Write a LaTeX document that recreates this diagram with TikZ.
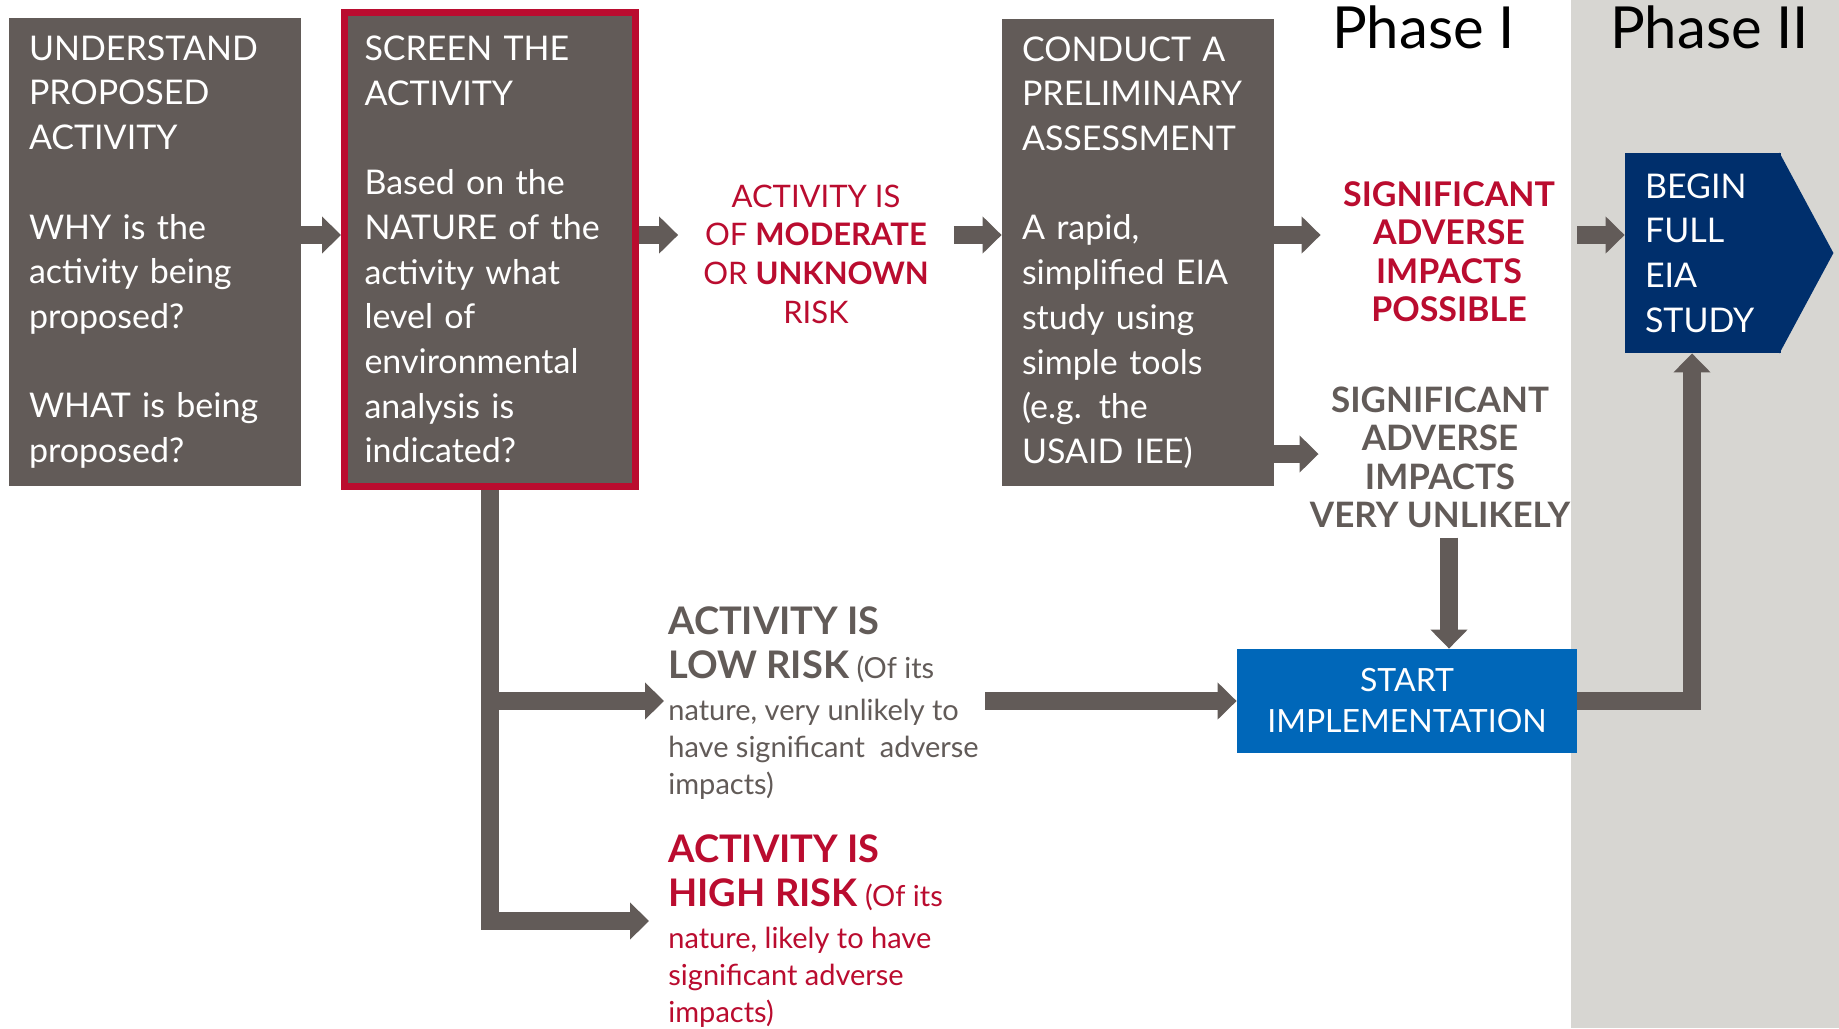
\documentclass[tikz,border=0pt]{standalone}
\usepackage{fontspec}
\setmainfont{Lato}
\usetikzlibrary{arrows.meta}
\definecolor{boxgray}{RGB}{98,91,88}
\definecolor{riskred}{RGB}{186,12,47}
\definecolor{eianavy}{RGB}{0,47,108}
\definecolor{implblue}{RGB}{0,103,185}
\definecolor{phasegray}{RGB}{215,214,210}
\tikzstyle{block} = [rectangle, fill=boxgray, text=white, align=left,
	inner xsep=10pt, font=\fontsize{17}{22.35}\selectfont]
\tikzstyle{outcome} = [align=center, inner sep=0pt]
\tikzstyle{risk} = [align=left, inner sep=0pt, anchor=north west,
	font=\fontsize{14.5}{18.5}\selectfont]
\tikzstyle{line} = [draw=boxgray, line width=8.75pt, -{Triangle[width=18pt,length=9.5pt]}]
\newcommand{\riskhead}[1]{{\fontsize{19}{22.25}\selectfont\bfseries #1}}

\begin{document}
\begin{tikzpicture}[x=0.5pt, y=-0.5pt]
	% Background
	\useasboundingbox (0,0) rectangle (1839,1028);
	\fill[white] (0,0) rectangle (1839,1028);
	\fill[phasegray] (1571,0) rectangle (1839,1028);
	% Place nodes
	\node [font=\fontsize{29}{35}\selectfont, anchor=base] (phase1) at (1423.5,48) {Phase I};
	\node [font=\fontsize{29}{35}\selectfont, anchor=base] (phase2) at (1709.5,48) {Phase II};
	\node [block, text width=126pt, minimum height=234pt] (understand) at (155,252) {UNDERSTAND\\ PROPOSED\\ ACTIVITY\\[22.35pt] WHY is the\\ activity being\\ proposed?\\[22.35pt] WHAT is being\\ proposed?};
	\node [block, draw=riskred, line width=3.5pt, text width=125.5pt, minimum height=237pt] (screen) at (490,249.5) {SCREEN THE\\ ACTIVITY\\[22.35pt] Based on the\\ NATURE of the\\ activity what\\ level of\\ environmental\\ analysis is\\ indicated?};
	\node [outcome, text=riskred, minimum width=137.5pt, font=\fontsize{15.5}{19.35}\selectfont] (moderate) at (816,254) {ACTIVITY IS\\ OF \textbf{MODERATE}\\ OR \textbf{UNKNOWN}\\ RISK};
	\node [block, text width=116pt, minimum height=233.5pt] (conduct) at (1138,252.5) {CONDUCT A\\ PRELIMINARY\\ ASSESSMENT\\[22.35pt] A rapid,\\ simplified EIA\\ study using\\ simple tools\\ (e.g. the\\ USAID IEE)};
	\node [outcome, text=riskred, minimum width=128pt, font=\fontsize{17}{19.25}\selectfont\bfseries] (possible) at (1449,251.5) {SIGNIFICANT\\ ADVERSE\\ IMPACTS\\ POSSIBLE};
	\node [outcome, text=boxgray, inner ysep=4.5pt, font=\fontsize{17.5}{19.25}\selectfont\bfseries] (unlikely) at (1440,457.5) {SIGNIFICANT\\ ADVERSE\\ IMPACTS\\ VERY UNLIKELY};
	\node [block, fill=eianavy, text width=58pt, minimum height=100pt] (begin) at (1703,253) {BEGIN\\ FULL\\ EIA\\ STUDY};
	\fill[eianavy] ([xshift=-1pt]begin.north east) -- ([xshift=26pt]begin.east) -- ([xshift=-1pt]begin.south east) -- cycle;
	\node [rectangle, fill=implblue, text=white, align=center, minimum width=170pt, minimum height=52pt, font=\fontsize{16}{20.5}\selectfont] (start) at (1407,701) {START\\ IMPLEMENTATION};
	\node [risk, text=boxgray] (lowrisk) at (668,606) {\riskhead{ACTIVITY IS}\\[3.75pt] \riskhead{LOW RISK} (Of its\\[2.25pt] nature, very unlikely to\\ have significant\ \ adverse\\ impacts)};
	\node [risk, text=riskred] (highrisk) at (668,834) {\riskhead{ACTIVITY IS}\\[3.75pt] \riskhead{HIGH RISK} (Of its\\[2.25pt] nature, likely to have\\ significant adverse\\ impacts)};
	% Rows and columns of the connectors
	\coordinate (row1) at (0,235);
	\coordinate (row2) at (0,454);
	\coordinate (row3) at (0,701);
	\coordinate (row4) at (0,921);
	\coordinate (col3) at (1449,0);
	\coordinate (col4) at (1692,0);
	% Draw edges
	\path [line] (understand.east |- row1) -- (screen.west |- row1);
	\path [line] (screen.east |- row1) -- (moderate.west |- row1);
	\path [line] (moderate.east |- row1) -- (conduct.west |- row1);
	\path [line] (conduct.east |- row1) -- (possible.west |- row1);
	\path [line] (possible.east |- row1) -- (begin.west |- row1);
	\path [line] (conduct.east |- row2) -- ([xshift=4.5pt]unlikely.west |- row2);
	\path [line] (unlikely.south -| col3) -- (start.north -| col3);
	\path [line] (screen.south |- row3) -- ([xshift=-2pt]lowrisk.west |- row3);
	\path [line] (screen.south) |- ([xshift=-9.5pt]highrisk.west |- row4);
	\path [line] ([xshift=3pt]lowrisk.east |- row3) -- (start.west);
	\path [line] (start.east) -| (begin.south -| col4);
\end{tikzpicture}
\end{document}
